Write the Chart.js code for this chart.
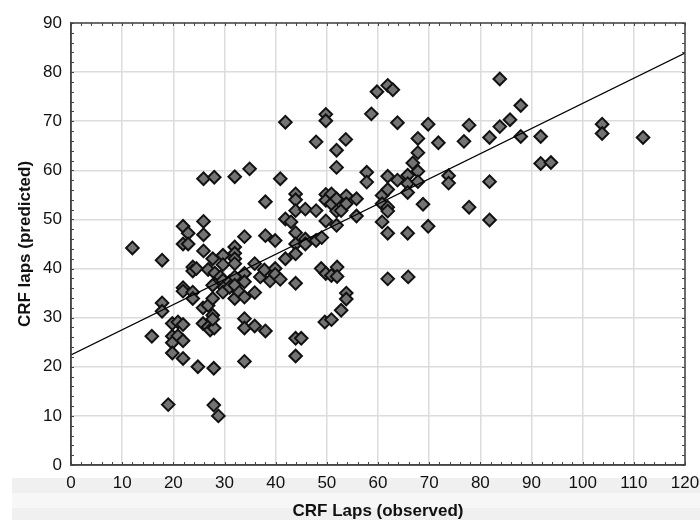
<!DOCTYPE html>
<html>
<head>
<meta charset="utf-8">
<script src="https://cdn.jsdelivr.net/npm/chart.js@4/dist/chart.umd.min.js"></script>
<style>
html, body { margin: 0; padding: 0; background: #fff; }
</style>
</head>
<body>
<canvas id="crfChart" width="700" height="520"></canvas>
<script>
/*===================================================================
   Data
==================================================================*/
const observed = [
  12, 15.8, 17.8, 17.8, 17.8, 19, 19.8, 19.8, 19.8, 19.8,
  20.9, 20.9, 21.9, 21.9, 21.9, 21.9, 21.9, 21.9, 21.9, 22.9,
  22.9, 23.8, 23.8, 24.5, 23.8, 23.8, 24.8, 25.9, 28, 25.9,
  25.9, 25.9, 26.8, 25.8, 26.8, 25.8, 26.8, 27.2, 28, 27.9,
  27.9, 28.8, 27.7, 28.1, 27.7, 27.7, 27.7, 27.7, 29.7, 29.7,
  29.2, 29.7, 29.9, 29.7, 31, 31, 32, 32, 32, 32,
  32, 32, 32, 32.9, 32, 33.9, 33.9, 33.9, 33.9, 33.9,
  33.9, 33.9, 34.9, 35.9, 35.9, 35.9, 37, 37.8, 38, 38,
  38, 38.9, 39.9, 39.9, 39.9, 40.9, 40.9, 41.9, 41.9, 41.9,
  43, 43.9, 43.9, 43.9, 43.9, 43.9, 43.9, 43.9, 43.9, 43.9,
  45, 45.8, 45.8, 45.8, 47.9, 47.9, 47.9, 49, 48.9, 49.8,
  49.8, 49.8, 49.8, 49.8, 49.8, 49.6, 50.9, 50.9, 50.9, 50.9,
  51.9, 51.9, 51.9, 51.9, 51.9, 52, 52, 52.8, 52.8, 53.7,
  53.8, 53.8, 53.8, 53.8, 55.8, 55.8, 57.8, 57.8, 58.7, 59.8,
  60.8, 60.8, 60.8, 61.9, 61.9, 61.9, 61.9, 61.9, 61.9, 61.9,
  62.9, 63.8, 63.8, 65.8, 65.8, 65.8, 65.8, 65.9, 66.8, 67.8,
  67.8, 67.8, 67.8, 68.8, 69.8, 69.8, 71.8, 73.8, 73.8, 76.8,
  77.8, 77.8, 81.8, 81.8, 81.8, 83.8, 83.8, 85.8, 87.9, 87.9,
  91.8, 91.8, 93.8, 103.8, 103.8, 111.8
]
const predicted = [
  44.2, 26.2, 41.7, 33, 31.3, 12.3, 28.8, 26.2, 24.9, 22.8,
  29.1, 26.3, 28.6, 25.3, 21.7, 36.1, 35.4, 48.6, 45, 47.2,
  45, 40.3, 39.5, 40, 35.2, 33.9, 20, 58.3, 58.6, 49.6,
  46.9, 43.6, 39.8, 32, 32.5, 28.8, 28.1, 27.5, 27.9, 19.7,
  12.2, 10, 42, 39.1, 36.6, 33.9, 30.5, 29.7, 42.7, 40.8,
  38.3, 37.6, 36.2, 35.2, 37.3, 36.2, 44.4, 43.1, 42, 41,
  38.3, 36.6, 33.9, 35.2, 58.7, 46.5, 39, 37.3, 34.2, 29.8,
  27.9, 21.1, 60.3, 41, 35.1, 28.3, 38.3, 39.7, 46.7, 53.6,
  27.3, 37.5, 45.7, 40, 38.8, 58.3, 37.8, 69.8, 50.1, 42,
  49.5, 55.2, 54, 51.8, 47.3, 45, 43, 37, 25.8, 22.2,
  25.8, 52.1, 46, 45, 65.8, 51.8, 45.7, 46.3, 40, 71.4,
  70.1, 55.1, 53.9, 49.7, 39, 29.1, 55.2, 53.2, 38.6, 29.6,
  64.1, 60.6, 54.2, 51.7, 48.8, 40.3, 38.4, 51.8, 31.5, 66.3,
  54.8, 53.2, 35, 33.8, 54.2, 50.7, 59.6, 57.6, 71.5, 76,
  54.9, 53.2, 49.5, 77.3, 58.8, 56.1, 52.5, 51.7, 47.2, 37.9,
  76.4, 69.7, 58, 59, 57.3, 55.5, 47.2, 38.3, 61.5, 66.5,
  63.6, 59.8, 57.7, 53.1, 69.4, 48.6, 65.6, 58.9, 57.4, 65.9,
  69.2, 52.5, 66.7, 57.7, 49.9, 78.6, 68.9, 70.3, 73.2, 66.9,
  66.9, 61.4, 61.6, 69.4, 67.5, 66.7
]

// fitted line end points
const fitX = [0, 120]
const fitY = [22.4, 83.9]

// tick labels
const xTicks = [0, 10, 20, 30, 40, 50, 60, 70, 80, 90, 100, 110, 120]
const yTicks = [0, 10, 20, 30, 40, 50, 60, 70, 80, 90]

const axisFont = 'Liberation Sans, Arial, sans-serif'

/*===================================================================
   Plugins: grey band under the x axis, frame and minor ticks
==================================================================*/
const bandPlugin = {
  id: 'band',
  beforeDraw(chart) {
    const ctx = chart.ctx
    ctx.save()
    ctx.fillStyle = '#f0f0f0'
    ctx.fillRect(12, 478, chart.width - 12, chart.height - 478)
    ctx.fillStyle = '#f7f7f7'
    ctx.fillRect(12, 493, chart.width - 12, 15)
    ctx.restore()
  }
}

const framePlugin = {
  id: 'frame',
  afterDraw(chart) {
    const { ctx, chartArea: a, scales } = chart
    ctx.save()
    ctx.strokeStyle = '#444'
    ctx.lineWidth = 1.5
    ctx.strokeRect(a.left, a.top, a.right - a.left, a.bottom - a.top)
    // minor ticks every 2 units, pointing inward
    ctx.lineWidth = 1
    ctx.beginPath()
    for (let v = xTicks[0]; v <= xTicks[xTicks.length - 1]; v += 2) {
      const px = Math.round(scales.x.getPixelForValue(v)) + 0.5
      ctx.moveTo(px, a.top); ctx.lineTo(px, a.top + 3)
      ctx.moveTo(px, a.bottom); ctx.lineTo(px, a.bottom - 3)
    }
    for (let v = yTicks[0]; v <= yTicks[yTicks.length - 1]; v += 2) {
      const py = Math.round(scales.y.getPixelForValue(v)) + 0.5
      ctx.moveTo(a.left, py); ctx.lineTo(a.left + 3, py)
      ctx.moveTo(a.right, py); ctx.lineTo(a.right - 3, py)
    }
    ctx.stroke()
    ctx.restore()
  }
}

/*===================================================================
   Chart
==================================================================*/
const points = observed.map((x, i) => ({ x: x, y: predicted[i] }))
const fitLine = fitX.map((x, i) => ({ x: x, y: fitY[i] }))

const ctx = document.getElementById('crfChart').getContext('2d')
const crfChart = new Chart(ctx, {
  type: 'scatter',
  data: {
    datasets: [{
      type: 'line',
      label: 'fit',
      data: fitLine,
      borderColor: '#000',
      borderWidth: 1.2,
      pointRadius: 0,
      fill: false,
      order: 0
    }, {
      label: 'CRF laps',
      data: points,
      pointStyle: 'rectRot',
      pointRadius: 6.3,
      backgroundColor: '#737373',
      borderColor: '#111',
      borderWidth: 2,
      order: 1
    }]
  },
  options: {
    responsive: false,
    devicePixelRatio: 1,
    animation: false,
    layout: { padding: { top: 23, right: 15, left: 0, bottom: 0 } },
    plugins: {
      legend: { display: false },
      tooltip: { enabled: false }
    },
    scales: {
      x: {
        type: 'linear',
        min: xTicks[0],
        max: xTicks[xTicks.length - 1],
        afterBuildTicks: (scale) => { scale.ticks = xTicks.map(v => ({ value: v })) },
        afterFit: (scale) => {
          scale.height = 55
          scale.paddingLeft = 0
          scale.paddingRight = 0
        },
        ticks: { color: '#111', padding: 8, font: { family: axisFont, size: 17 }, maxRotation: 0 },
        grid: { color: '#dcdcdc', lineWidth: 1.5, drawTicks: false },
        border: { color: '#444', width: 1.5 },
        title: {
          display: true,
          text: 'CRF Laps (observed)',
          color: '#111',
          font: { family: axisFont, size: 17, weight: 'bold', lineHeight: 1 },
          padding: { top: 0, bottom: 0 }
        }
      },
      y: {
        type: 'linear',
        min: yTicks[0],
        max: yTicks[yTicks.length - 1],
        afterBuildTicks: (scale) => { scale.ticks = yTicks.map(v => ({ value: v })) },
        afterFit: (scale) => {
          scale.width = 71
          scale.paddingTop = 0
          scale.paddingBottom = 0
        },
        ticks: { color: '#111', padding: 9, font: { family: axisFont, size: 17 } },
        grid: { color: '#dcdcdc', lineWidth: 1.5, drawTicks: false },
        border: { color: '#444', width: 1.5 },
        title: {
          display: true,
          text: 'CRF laps (predicted)',
          color: '#111',
          font: { family: axisFont, size: 17, weight: 'bold' },
          padding: { top: 15, bottom: 0 }
        }
      }
    }
  },
  plugins: [bandPlugin, framePlugin]
})
</script>
</body>
</html>
